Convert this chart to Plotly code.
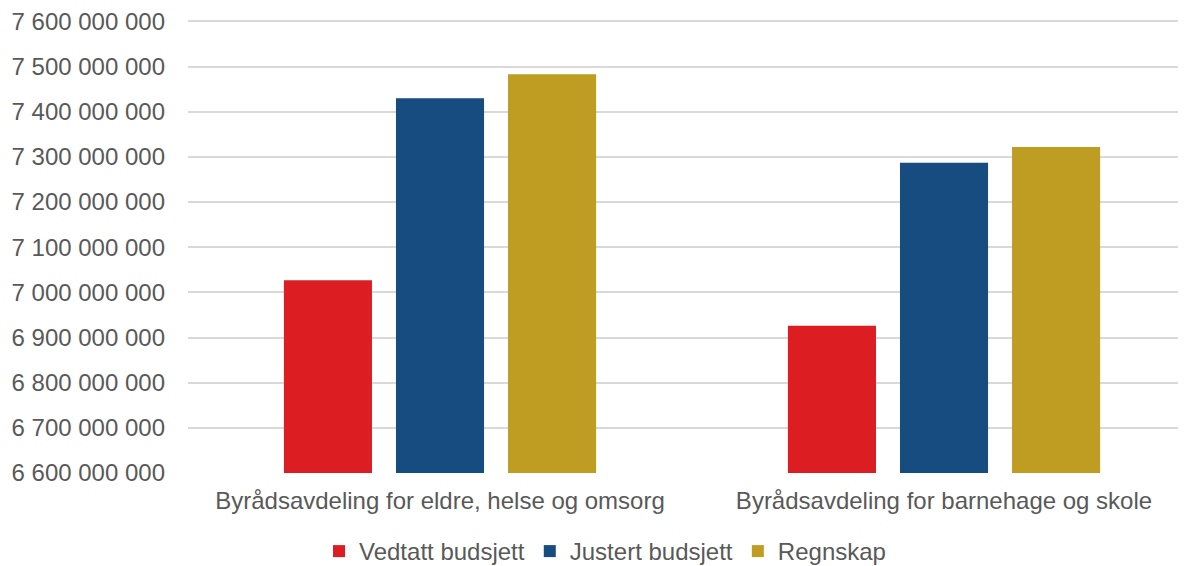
import plotly.graph_objects as go

categories = ["Byrådsavdeling for eldre, helse og omsorg", "Byrådsavdeling for barnehage og skole"]
series_names = ["Vedtatt budsjett", "Justert budsjett", "Regnskap"]
vedtatt = [7027000000, 6926000000]
justert = [7430000000, 7287000000]
regnskap = [7483000000, 7322000000]
colors = ["#DC1E23", "#174C80", "#BF9C22"]

fig = go.Figure()
for name, vals, c in zip(series_names, [vedtatt, justert, regnskap], colors):
    fig.add_trace(go.Bar(name=name, x=categories, y=vals, marker_color=c, marker_line_width=0))

# page body adds an 8px offset, so margins are shifted to compensate
font = dict(family="Liberation Sans, Arial, sans-serif", size=24, color="#595959")
fig.update_layout(
    width=1186, height=566,
    margin=dict(l=180, r=0, t=12, b=101),
    plot_bgcolor="white", paper_bgcolor="white",
    font=font,
    separators=", ",
    barmode="group", bargap=0.333, bargroupgap=0.214,
    showlegend=True,
    legend=dict(orientation="h", x=0.4145, xanchor="center", y=-0.174, yanchor="middle",
                font=dict(size=24), itemwidth=30, traceorder="normal"),
)
fig.update_xaxes(range=[-0.5, 1.496], showgrid=False, showline=False, ticks="",
                 automargin=False, ticklabelstandoff=11, tickfont=dict(size=24))
fig.update_yaxes(range=[6600000000, 7603000000], dtick=100000000, tickformat=",d",
                 showgrid=True, gridcolor="#D9D9D9", gridwidth=1.5, zeroline=False,
                 showline=False, ticks="", automargin=False, ticklabelstandoff=22,
                 ticklabeloverflow="allow", tickfont=dict(size=24))

fig.write_html("out.html")
